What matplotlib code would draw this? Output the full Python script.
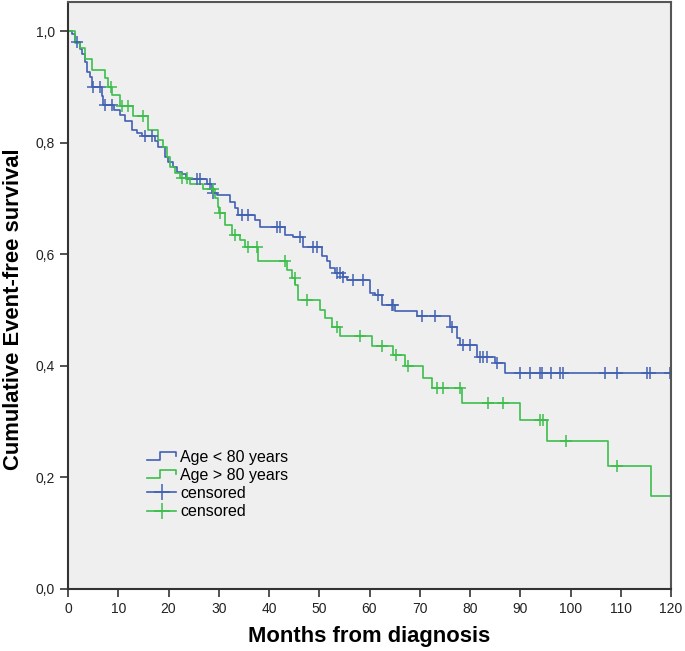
import numpy as np
import matplotlib
matplotlib.use("Agg")
import matplotlib.pyplot as plt
from matplotlib.lines import Line2D
from matplotlib.legend_handler import HandlerBase

plt.rcParams['font.family'] = ['Liberation Sans', 'DejaVu Sans']

# Age < 80 years: step times (months) and survival after each step
young_t = [0.8, 1.4, 2.4, 2.8, 3.4, 3.8, 4.4, 4.8, 6.8, 7.0, 9.2, 10.3, 11.3,
           12.7, 13.7, 14.7, 17.3, 17.9, 19.3, 19.9, 20.9, 21.7, 22.7, 23.5,
           27.7, 28.7, 29.7, 32.2, 33.2, 33.8, 37.2, 38.2, 43.2, 44.8, 46.8,
           50.5, 51.5, 52.1, 53.1, 54.7, 55.5, 60.1, 61.1, 62.5, 65.1, 69.5,
           76.0, 77.4, 78.0, 81.4, 85.0, 87.0]
young_s = [0.994, 0.981, 0.967, 0.958, 0.945, 0.927, 0.917, 0.900, 0.883, 0.868,
           0.859, 0.850, 0.838, 0.823, 0.818, 0.811, 0.802, 0.793, 0.775, 0.765,
           0.757, 0.748, 0.743, 0.734, 0.725, 0.710, 0.707, 0.694, 0.683, 0.671,
           0.662, 0.648, 0.635, 0.630, 0.613, 0.597, 0.587, 0.576, 0.567, 0.560,
           0.554, 0.531, 0.527, 0.509, 0.499, 0.490, 0.470, 0.450, 0.438, 0.416,
           0.405, 0.387]
young_cens = [1.8, 5.0, 6.4, 7.4, 8.8, 15.3, 16.7, 25.7, 26.3, 28.3, 28.9, 34.6,
              35.8, 41.6, 42.2, 46.2, 48.8, 49.6, 53.5, 54.1, 54.7, 56.7, 58.7,
              61.7, 64.5, 64.7, 70.4, 73.0, 76.4, 78.6, 80.0, 82.0, 82.6, 83.4,
              85.3, 90.0, 91.9, 93.9, 94.3, 96.1, 97.9, 98.5, 106.9, 109.3,
              115.2, 115.8, 119.8]

# Age > 80 years
old_t = [1.4, 2.4, 3.4, 4.8, 7.4, 7.9, 8.8, 10.3, 12.9, 15.9, 17.9, 18.9, 19.7,
         20.3, 21.3, 22.3, 24.3, 26.9, 29.3, 29.9, 30.0, 31.2, 32.6, 34.2, 35.2,
         37.8, 43.6, 44.6, 45.2, 45.8, 50.1, 51.1, 52.5, 54.1, 60.5, 64.7, 67.1,
         70.6, 72.4, 78.4, 90.0, 95.3, 107.5, 116.0]
old_s = [0.979, 0.970, 0.949, 0.931, 0.915, 0.900, 0.886, 0.865, 0.847, 0.823,
         0.805, 0.793, 0.775, 0.757, 0.746, 0.737, 0.725, 0.716, 0.701, 0.685,
         0.674, 0.653, 0.635, 0.626, 0.613, 0.587, 0.572, 0.558, 0.545, 0.518,
         0.500, 0.486, 0.470, 0.454, 0.436, 0.420, 0.400, 0.378, 0.361, 0.334,
         0.303, 0.265, 0.221, 0.167]
old_cens = [8.6, 10.7, 11.9, 14.9, 22.7, 23.7, 28.9, 30.2, 33.2, 35.8, 37.7,
            43.2, 45.1, 47.6, 53.5, 58.1, 62.5, 65.2, 67.7, 73.5, 74.7, 78.0,
            83.6, 86.6, 93.9, 94.5, 99.1, 109.3]

blue = '#4361B3'
green = '#3DBE4C'


def surv_at(times, surv, t):
    s = 1.0
    for ti, si in zip(times, surv):
        if ti <= t:
            s = si
    return s


class StepHandler(HandlerBase):
    def create_artists(self, legend, orig, xd, yd, w, h, fontsize, trans):
        xs = [xd, xd + 0.45 * w, xd + 0.45 * w, xd + w, xd + w]
        ys = [yd + 0.15 * h, yd + 0.15 * h, yd + 0.85 * h, yd + 0.85 * h, yd + 0.5 * h]
        ln = Line2D(xs, ys, color=orig.get_color(), lw=1.2)
        ln.set_transform(trans)
        return [ln]


fig = plt.figure(figsize=(6.85, 6.51), dpi=100)
ax = fig.add_axes([68 / 685, 1 - 589 / 651, 603 / 685, 587 / 651])
ax.set_facecolor('#EFEFEF')

# step curves start at (0, 1) and run to the end of follow-up
yx = [0] + young_t + [120]
yy = [1.0] + young_s + [young_s[-1]]
ox = [0] + old_t + [120]
oy = [1.0] + old_s + [old_s[-1]]
l1, = ax.step(yx, yy, where='post', color=blue, lw=1.2)
l2, = ax.step(ox, oy, where='post', color=green, lw=1.2)

yc = [surv_at(young_t, young_s, t) for t in young_cens]
oc = [surv_at(old_t, old_s, t) for t in old_cens]
ax.plot(young_cens, yc, ls='none', marker='+', ms=8, mew=1.1, color=blue)
ax.plot(old_cens, oc, ls='none', marker='+', ms=8, mew=1.1, color=green)

ax.set_xlim(0, 120)
ax.set_ylim(0, 1.052)
ax.set_xticks(np.arange(0, 121, 10))
yt = [0.0, 0.2, 0.4, 0.6, 0.8, 1.0]
ax.set_yticks(yt)
ax.set_yticklabels([('%.1f' % v).replace('.', ',') for v in yt])
ax.tick_params(direction='out', length=6, width=1.2, labelsize=10,
               colors='#333333', labelcolor='#222222')

for side in ['left', 'bottom']:
    ax.spines[side].set_color('#333333')
    ax.spines[side].set_linewidth(1.5)
for side in ['top', 'right']:
    ax.spines[side].set_color('#555555')
    ax.spines[side].set_linewidth(1.5)

ax.set_xlabel('Months from diagnosis', fontsize=15.8, fontweight='bold', labelpad=7)
ax.set_ylabel('Cumulative Event-free survival', fontsize=15.8, fontweight='bold',
              labelpad=8, y=0.477)

c1l = Line2D([], [], color=blue, lw=1.2, marker='+', ms=12, mew=1.1)
c2l = Line2D([], [], color=green, lw=1.2, marker='+', ms=12, mew=1.1)
ax.legend([l1, l2, c1l, c2l],
          ['Age < 80 years', 'Age > 80 years', 'censored', 'censored'],
          handler_map={l1: StepHandler(), l2: StepHandler()},
          loc='lower left', bbox_to_anchor=(0.113, 0.1), frameon=False,
          fontsize=11.5, handlelength=1.8, handletextpad=0.25, labelspacing=0.2,
          borderpad=0.2)

fig.savefig('out.png', dpi=100)
